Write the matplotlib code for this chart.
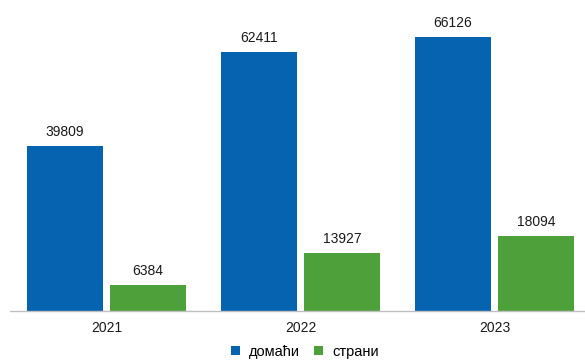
import matplotlib
matplotlib.use("Agg")
import matplotlib.pyplot as plt
import numpy as np

plt.rcParams['font.family'] = ['Liberation Sans', 'DejaVu Sans']

years = ["2021", "2022", "2023"]
domaci = [39809, 62411, 66126]
strani = [6384, 13927, 18094]
series_names = ["домаћи", "страни"]
colors = ["#0563b0", "#4ea03a"]

W, H = 585, 360
fig = plt.figure(figsize=(W/100, H/100), dpi=100)
ax = fig.add_axes([9.5/W, 49/H, (W-9.5)/W, 311/H])

x = np.arange(len(years))
bw = 0.392
off = 0.214
b1 = ax.bar(x - off, domaci, bw, color=colors[0], label=series_names[0])
b2 = ax.bar(x + off, strani, bw, color=colors[1], label=series_names[1])

for bars, vals in ((b1, domaci), (b2, strani)):
    for b, v in zip(bars, vals):
        ax.annotate(str(v), (b.get_x() + b.get_width()/2, v), xytext=(0, 5),
                    textcoords="offset points", ha="center", va="bottom", fontsize=10, color="#1a1a1a")

ax.set_xlim(-0.5, 2.466)
ax.set_ylim(0, 75050)
ax.set_xticks(x)
ax.set_xticklabels(years, fontsize=10, color="#1a1a1a")
ax.tick_params(axis="x", length=0, pad=7)
ax.set_yticks([])
for s in ("top", "right", "left"):
    ax.spines[s].set_visible(False)
ax.spines["bottom"].set_color("#bfbfbf")
ax.spines["bottom"].set_linewidth(1)

fig.legend(loc="center", bbox_to_anchor=(305/W, 1 - 352/H), ncol=2, frameon=False,
           fontsize=10.5, handlelength=0.6, handleheight=0.6, columnspacing=1.0, handletextpad=0.6)

fig.savefig("out.png", dpi=100)
